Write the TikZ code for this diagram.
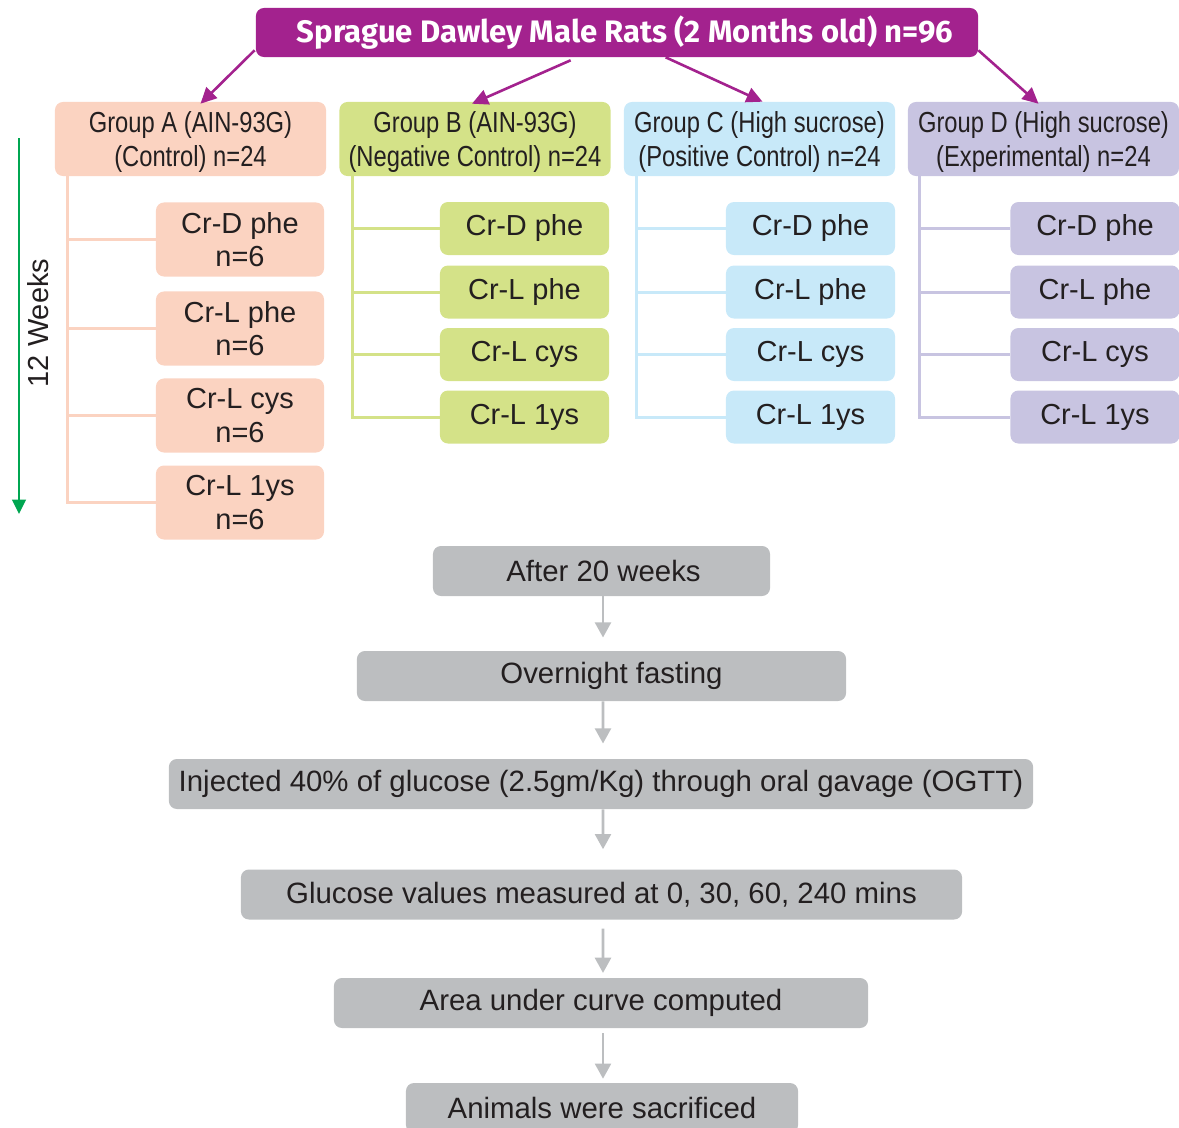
\documentclass[tikz,border=0pt]{standalone}
\usepackage{fontspec}
\setmainfont{Liberation Sans}
\newfontfamily\narrowfont[FakeStretch=0.82]{Liberation Sans}
\newfontfamily\titlefont{Fira Sans}
\usetikzlibrary{arrows.meta,calc,positioning}

\definecolor{titlepurple}{HTML}{A3228E}
\definecolor{peach}{HTML}{FBD3C1}
\definecolor{limeg}{HTML}{D4E288}
\definecolor{skyb}{HTML}{C8E9F9}
\definecolor{lav}{HTML}{C8C4E1}
\definecolor{boxgrey}{HTML}{BCBEC0}
\definecolor{txt}{HTML}{231F20}
\definecolor{weekgreen}{HTML}{00A651}

\tikzset{
  box/.style={rounded corners=0.2cm, inner sep=0pt, align=center, text=txt,
    font=\fontsize{20.6}{23.5}\selectfont},
  grp/.style={box, minimum width=6.775cm, minimum height=1.85cm, text depth=-0.1cm,
    font=\narrowfont\fontsize{20.6}{23.5}\selectfont},
  subA/.style={box, fill=peach, minimum width=4.2cm, minimum height=1.85cm},
  sub/.style={box, minimum width=4.225cm, minimum height=1.325cm},
  flow/.style={box, fill=boxgrey, minimum height=1.25cm,
    font=\fontsize{20.9}{24}\selectfont},
  trunk/.style={line width=0.075cm},
  toparrow/.style={draw=titlepurple, line width=0.065cm,
    -{Triangle[length=0.4cm,width=0.38cm]}},
  flowarrow/.style={draw=boxgrey, line width=0.065cm,
    -{Triangle[length=0.38cm,width=0.4cm]}},
}

\begin{document}
\begin{tikzpicture}[x=0.025cm,y=-0.025cm]
\useasboundingbox (0,0) rectangle (1179,1127);

% title
\node[box, fill=titlepurple, text=white, minimum width=18.05cm, minimum height=1.225cm,
  font=\titlefont\bfseries\fontsize{22.1}{25}\selectfont] (title) at (617,32.5)
  {\hspace*{0.4cm}Sprague Dawley Male Rats (2 Months old) n=96};

% groups
\node[grp, fill=peach] (gA) at (190.5,139) {Group A (AIN-93G)\\(Control) n=24};
\node[grp, fill=limeg] (gB) at (475,139) {Group B (AIN-93G)\\(Negative Control) n=24};
\node[grp, fill=skyb] (gC) at (759.5,139) {Group C (High sucrose)\\(Positive Control) n=24};
\node[grp, fill=lav] (gD) at (1043.5,139) {Group D (High sucrose)\\(Experimental) n=24};

\draw[toparrow] ($(title.south west)+(-1,-7)$) -- ($(gA.north)+(10,2)$);
\draw[toparrow] ($(title.south west)+(315,3)$) -- ($(gB.north)+(-3,2)$);
\draw[toparrow] ($(title.south west)+(410,0)$) -- ($(gC.north)+(3,0)$);
\draw[toparrow] ($(title.south east)+(0,-7)$) -- ($(gD.north)+(-5,2)$);

% group A
\node[subA] (a1) at (240,239.5) {Cr-D phe\\n=6};
\node[subA] (a2) at (240,328.5) {Cr-L phe\\n=6};
\node[subA] (a3) at (240,415.5) {Cr-L cys\\n=6};
\node[subA] (a4) at (240,502.5) {Cr-L 1ys\\n=6};

% group B
\node[sub, fill=limeg] (b1) at (524.5,228.5) {Cr-D phe};
\node[sub, fill=limeg] (b2) at (524.5,292) {Cr-L phe};
\node[sub, fill=limeg] (b3) at (524.5,354.5) {Cr-L cys};
\node[sub, fill=limeg] (b4) at (524.5,417) {Cr-L 1ys};

% group C
\node[sub, fill=skyb] (c1) at (810.5,228.5) {Cr-D phe};
\node[sub, fill=skyb] (c2) at (810.5,292) {Cr-L phe};
\node[sub, fill=skyb] (c3) at (810.5,354.5) {Cr-L cys};
\node[sub, fill=skyb] (c4) at (810.5,417) {Cr-L 1ys};

% group D
\node[sub, fill=lav] (d1) at (1095,228.5) {Cr-D phe};
\node[sub, fill=lav] (d2) at (1095,292) {Cr-L phe};
\node[sub, fill=lav] (d3) at (1095,354.5) {Cr-L cys};
\node[sub, fill=lav] (d4) at (1095,417) {Cr-L 1ys};

% branches
\coordinate (tA) at ($(gA.south west)+(13,0)$);
\coordinate (tB) at ($(gB.south west)+(13,0)$);
\coordinate (tC) at ($(gC.south west)+(13,0)$);
\coordinate (tD) at ($(gD.south west)+(12,0)$);
\draw[trunk, peach] (tA) |- (a4.west) (tA |- a1.west) -- (a1.west)
  (tA |- a2.west) -- (a2.west) (tA |- a3.west) -- (a3.west);
\draw[trunk, limeg] (tB) |- (b4.west) (tB |- b1.west) -- (b1.west)
  (tB |- b2.west) -- (b2.west) (tB |- b3.west) -- (b3.west);
\draw[trunk, skyb] (tC) |- (c4.west) (tC |- c1.west) -- (c1.west)
  (tC |- c2.west) -- (c2.west) (tC |- c3.west) -- (c3.west);
\draw[trunk, lav] (tD) |- (d4.west) (tD |- d1.west) -- (d1.west)
  (tD |- d2.west) -- (d2.west) (tD |- d3.west) -- (d3.west);

% time line
\coordinate (wtop) at (19,138);
\coordinate (wend) at (19,514);
\draw[weekgreen, line width=0.05cm, -{Triangle[length=0.36cm,width=0.34cm]}] (wtop) -- (wend);
\node[rotate=90, text=txt, font=\fontsize{20.6}{23.5}\selectfont] (weeks) at (38,323) {12 Weeks};

% after the diet
\node[flow, minimum width=8.425cm] (after) at (601.5,571) {\hspace*{0.1cm}After 20 weeks};
\node[flow, minimum width=12.225cm] (fast) at (601.5,676) {\hspace*{0.5cm}Overnight fasting};
\node[flow, minimum width=21.6cm] (ogtt) at (601,784)
  {Injected 40\% of glucose (2.5gm/Kg) through oral gavage (OGTT)};
\node[flow, minimum width=18.025cm] (gluc) at (601.5,894.5) {Glucose values measured at 0, 30, 60, 240 mins};
\node[flow, minimum width=13.35cm] (auc) at (601,1003) {Area under curve computed};
\node[flow, minimum width=9.8cm] (sacr) at (602,1108) {Animals were sacrificed};

\draw[flowarrow, shorten >=0.33cm] ($(after.south)+(1.5,0)$) -- ($(fast.north)+(1.5,0)$);
\draw[flowarrow, shorten >=0.38cm] ($(fast.south)+(1.5,0)$) -- ($(ogtt.north)+(2,0)$);
\draw[flowarrow, shorten >=0.5cm] ($(ogtt.south)+(2,0)$) -- ($(gluc.north)+(1.5,0)$);
\draw[flowarrow, shorten <=0.22cm, shorten >=0.12cm] ($(gluc.south)+(1.5,0)$) -- ($(auc.north)+(2,0)$);
\draw[flowarrow, shorten <=0.12cm, shorten >=0.1cm] ($(auc.south)+(2,0)$) -- ($(sacr.north)+(1,0)$);

\end{tikzpicture}
\end{document}
